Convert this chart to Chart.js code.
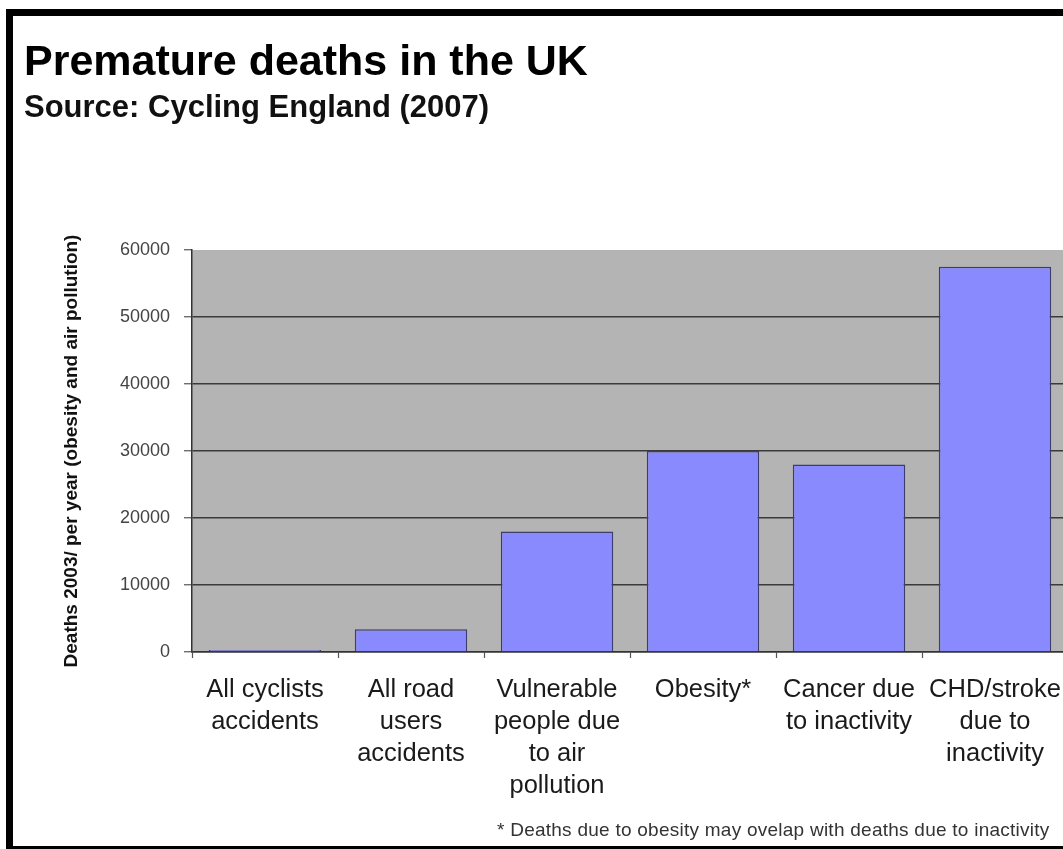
<!DOCTYPE html>
<html>
<head>
<meta charset="utf-8">
<script src="https://cdn.jsdelivr.net/npm/chart.js@4"></script>
<style>
html,body{margin:0;padding:0;background:#fff;overflow:hidden;width:1063px;height:849px;}
#wrap{position:relative;width:1063px;height:849px;overflow:hidden;background:#fff;}
#chartBox{position:absolute;left:0;top:0;width:1070px;height:849px;}
canvas{display:block;}
.txt{position:absolute;font-family:"Liberation Sans",Arial,Helvetica,sans-serif;white-space:nowrap;line-height:1;}
#title{left:24px;top:39px;font-size:43px;font-weight:bold;color:#000;}
#subtitle{left:24px;top:91px;font-size:31px;font-weight:bold;color:#111;}
#note{left:497px;top:820px;font-size:19px;color:#333;letter-spacing:0.25px;}
.frame{position:absolute;background:#000;}
</style>
</head>
<body>
<div id="wrap">
  <div id="chartBox"><canvas id="c" width="1070" height="849"></canvas></div>
  <div class="frame" style="left:6px;top:9px;width:1060px;height:7px;"></div>
  <div class="frame" style="left:6px;top:9px;width:7px;height:840px;"></div>
  <div class="frame" style="left:6px;top:846px;width:1060px;height:3px;"></div>
  <div id="title" class="txt">Premature deaths in the UK</div>
  <div id="subtitle" class="txt">Source: Cycling England (2007)</div>
  <div id="note" class="txt">* Deaths due to obesity may ovelap with deaths due to inactivity</div>
</div>
<script>
// ---- data ----
const categories = [
  ["All cyclists", "accidents"],
  ["All road", "users", "accidents"],
  ["Vulnerable", "people due", "to air", "pollution"],
  ["Obesity*"],
  ["Cancer due", "to inactivity"],
  ["CHD/stroke", "due to", "inactivity"]
];
const deaths = [300, 3400, 18000, 30000, 28000, 57500];
const yTickValues = [0, 10000, 20000, 30000, 40000, 50000, 60000];
const yAxisTitle = "Deaths 2003/ per year (obesity and air pollution)";

// ---- chart ----
const plotBg = {
  id: 'plotBg',
  beforeDraw(chart) {
    const {ctx, chartArea: a} = chart;
    ctx.save();
    ctx.fillStyle = '#b4b4b4';
    ctx.fillRect(a.left, a.top, a.right - a.left, a.bottom - a.top);
    ctx.restore();
  }
};

new Chart(document.getElementById('c'), {
  type: 'bar',
  data: {
    labels: categories,
    datasets: [{
      data: deaths,
      backgroundColor: '#8a8aff',
      borderColor: '#3c3c6e',
      borderWidth: 1.5,
      categoryPercentage: 1.0,
      barPercentage: 0.77
    }]
  },
  options: {
    responsive: false,
    animation: false,
    devicePixelRatio: 1,
    layout: { padding: { left: 56, right: 2, top: 250, bottom: 47 } },
    plugins: { legend: { display: false }, tooltip: { enabled: false } },
    scales: {
      x: {
        offset: true,
        grid: {
          offset: true,
          drawOnChartArea: false,
          drawTicks: true,
          tickLength: 6,
          tickColor: '#555',
          tickWidth: 1.2
        },
        border: { display: true, color: '#333', width: 1.5 },
        ticks: {
          autoSkip: false,
          maxRotation: 0,
          minRotation: 0,
          padding: 16,
          color: '#1a1a1a',
          font: { family: '"Liberation Sans", Arial, sans-serif', size: 25.5, lineHeight: 32/25.5 }
        },
        afterFit(scale) {
          scale.height = 150;
          scale.paddingLeft = 0;
          scale.paddingRight = 0;
        }
      },
      y: {
        min: 0,
        max: 60000,
        afterBuildTicks(scale) { scale.ticks = yTickValues.map(v => ({ value: v })); },
        grid: {
          color: ctx => (ctx.tick && ctx.tick.value === 60000) ? 'rgba(0,0,0,0)' : '#3a3a3a',
          lineWidth: 1.5,
          drawTicks: true,
          tickLength: 8,
          tickColor: '#555',
          tickWidth: 1.2
        },
        border: { display: true, color: '#333', width: 1.5 },
        ticks: {
          padding: 14,
          color: '#444',
          font: { family: '"Liberation Sans", Arial, sans-serif', size: 18 },
          callback: v => String(v)
        },
        title: {
          display: true,
          text: yAxisTitle,
          color: '#111',
          font: { family: '"Liberation Sans", Arial, sans-serif', size: 19, weight: 'bold' },
          padding: { top: 4, bottom: 4 }
        },
        afterFit(scale) {
          scale.width = 136;
          scale.paddingTop = 0;
          scale.paddingBottom = 0;
        }
      }
    }
  },
  plugins: [plotBg]
});
</script>
</body>
</html>
